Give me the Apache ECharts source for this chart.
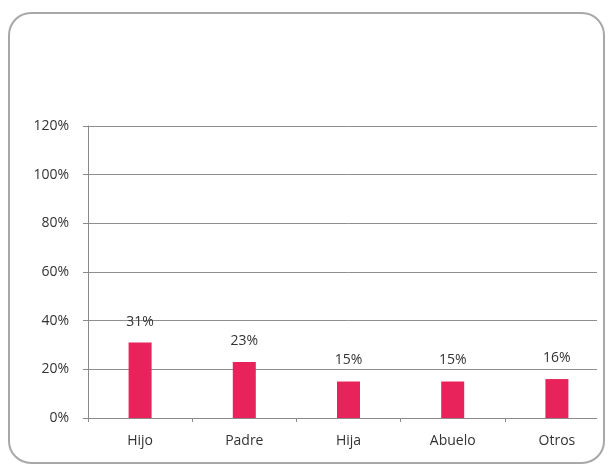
<!DOCTYPE html>
<html>
<head>
<meta charset="utf-8">
<script src="https://cdn.jsdelivr.net/npm/echarts@6/dist/echarts.min.js"></script>
<style>html,body{margin:0;padding:0;background:#fff;}#c{width:613px;height:467px;}</style>
</head>
<body>
<div id="c"></div>
<script>
const categories = ['Hijo', 'Padre', 'Hija', 'Abuelo', 'Otros'];
const values = [31, 23, 15, 15, 16];
const yTicks = [0, 20, 40, 60, 80, 100, 120];

const chart = echarts.init(document.getElementById('c'), null, {renderer: 'canvas'});
const font = '"Open Sans", "Liberation Sans", sans-serif';
chart.setOption({
  animation: false,
  backgroundColor: '#ffffff',
  grid: {left: 88, right: 4, top: 126, bottom: 49, containLabel: false},
  xAxis: {
    type: 'category',
    data: categories,
    axisLine: {lineStyle: {color: '#8a8a8a', width: 1}},
    axisTick: {show: true, length: 4, inside: false, lineStyle: {color: '#8a8a8a'}},
    axisLabel: {color: '#333333', fontSize: 14, fontFamily: font, margin: 16}
  },
  yAxis: {
    type: 'value',
    min: yTicks[0],
    max: yTicks[yTicks.length - 1],
    interval: 20,
    axisLine: {show: true, lineStyle: {color: '#8a8a8a', width: 1}},
    axisTick: {show: true, length: 5, lineStyle: {color: '#8a8a8a'}},
    axisLabel: {color: '#333333', fontSize: 14, fontFamily: font, margin: 19, formatter: '{value}%'},
    splitLine: {show: true, lineStyle: {color: '#8e8e8e', width: 1}}
  },
  series: [{
    type: 'bar',
    data: values,
    barWidth: 23,
    itemStyle: {color: '#E8225A'},
    label: {show: true, position: 'top', distance: 14, formatter: '{c}%', color: '#333333', fontSize: 14, fontFamily: font}
  }],
  graphic: [
    {type: 'rect', z: 100, shape: {x: 597, y: 100, width: 20, height: 330}, style: {fill: '#ffffff'}},
    {type: 'rect', z: 101, shape: {x: 9, y: 13, width: 595, height: 450, r: 22}, style: {fill: 'none', stroke: '#a8a8a8', lineWidth: 2}}
  ]
});
</script>
</body>
</html>
